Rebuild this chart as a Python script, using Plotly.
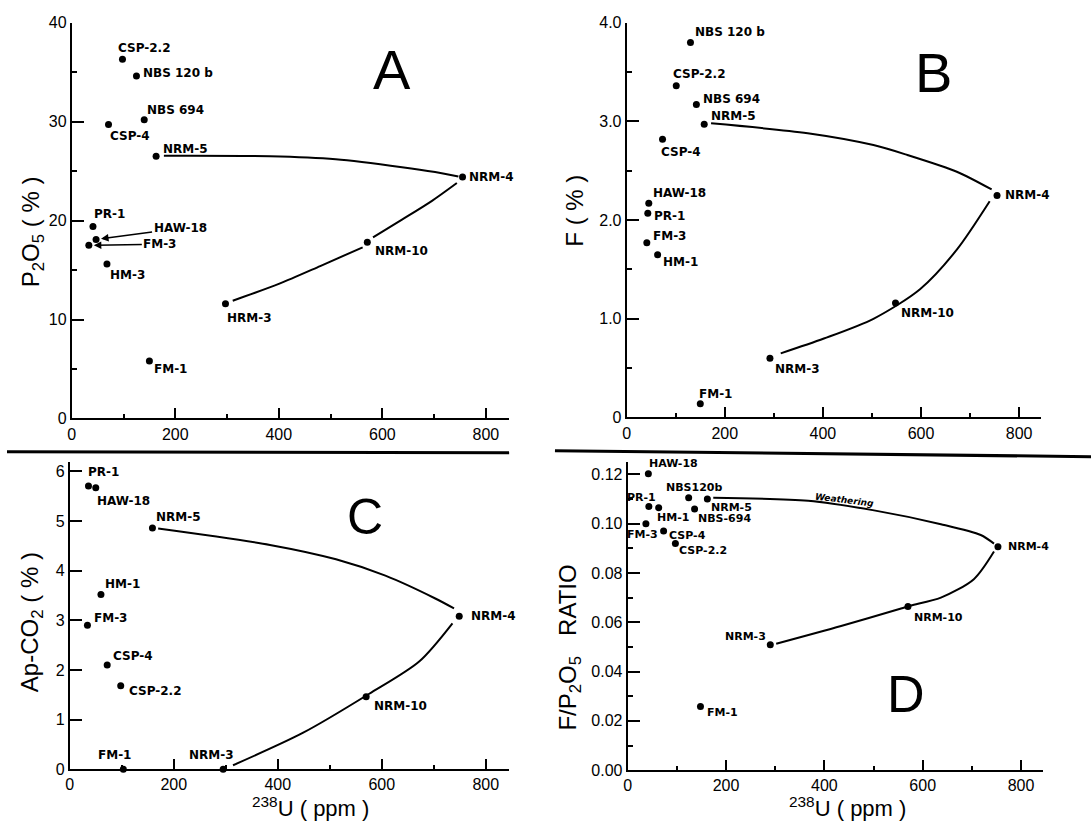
import plotly.graph_objects as go

W, H = 1091, 835

# ---------------- data ----------------
# Panel A : P2O5 (%) vs 238U (ppm)
a_names = ["CSP-2.2", "NBS 120 b", "NBS 694", "CSP-4", "NRM-5", "NRM-4", "PR-1",
           "HAW-18", "FM-3", "HM-3", "NRM-10", "HRM-3", "FM-1"]
a_u = [98, 125, 140, 71, 163, 755, 41, 47, 33, 68, 571, 297, 150]
a_p2o5 = [36.3, 34.6, 30.2, 29.7, 26.5, 24.4, 19.4, 18.1, 17.5, 15.6, 17.8, 11.6, 5.8]
a_curve1_u = [178, 383, 510, 638, 702, 747]
a_curve1_v = [26.55, 26.5, 26.2, 25.4, 24.9, 24.45]
a_curve2_u = [744, 696, 638, 582]
a_curve2_v = [23.8, 22.0, 20.1, 18.3]
a_curve3_u = [562, 480, 400, 311]
a_curve3_v = [17.3, 15.4, 13.6, 11.9]

# Panel B : F (%) vs 238U (ppm)
b_names = ["NBS 120 b", "CSP-2.2", "NBS 694", "NRM-5", "CSP-4", "HAW-18", "PR-1",
           "FM-3", "HM-1", "NRM-4", "NRM-10", "NRM-3", "FM-1"]
b_u = [130, 101, 142, 158, 73, 45, 43, 41, 63, 755, 548, 292, 150]
b_f = [3.80, 3.36, 3.17, 2.97, 2.82, 2.17, 2.07, 1.77, 1.65, 2.25, 1.16, 0.60, 0.14]
b_curve1_u = [172, 369, 503, 572, 673, 744]
b_curve1_v = [2.98, 2.88, 2.76, 2.66, 2.49, 2.31]
b_curve2_u = [740, 673, 598, 503, 402, 314]
b_curve2_v = [2.19, 1.70, 1.30, 1.00, 0.80, 0.65]

# Panel C : Ap-CO2 (%) vs 238U (ppm)
c_names = ["PR-1", "HAW-18", "NRM-5", "HM-1", "FM-3", "CSP-4", "CSP-2.2",
           "NRM-4", "NRM-10", "FM-1", "NRM-3"]
c_u = [36, 50, 159, 60, 34, 72, 98, 749, 570, 103, 295]
c_co2 = [5.71, 5.67, 4.86, 3.52, 2.90, 2.10, 1.68, 3.08, 1.46, 0.0, 0.0]
c_curve1_u = [170, 385, 512, 607, 703, 739]
c_curve1_v = [4.85, 4.52, 4.23, 3.90, 3.44, 3.24]
c_curve2_u = [736, 672, 576, 448, 314]
c_curve2_v = [2.94, 2.17, 1.52, 0.73, 0.08]

# Panel D : F/P2O5 ratio vs 238U (ppm)
d_names = ["HAW-18", "PR-1", "HM-1", "NBS120b", "NRM-5", "NBS-694", "FM-3",
           "CSP-4", "CSP-2.2", "NRM-4", "NRM-10", "NRM-3", "FM-1"]
d_u = [42, 43, 63, 124, 162, 136, 37, 73, 97, 753, 570, 290, 148]
d_ratio = [0.1203, 0.1070, 0.1065, 0.1105, 0.1100, 0.1060, 0.1000, 0.0970,
           0.0920, 0.0906, 0.0664, 0.0509, 0.0258]
d_curve1_u = [174, 367, 501, 637, 718, 745]
d_curve1_v = [0.1105, 0.1093, 0.1054, 0.0998, 0.0954, 0.0919]
d_curve2_u = [745, 704, 637, 576, 556, 434, 302]
d_curve2_v = [0.0887, 0.0775, 0.0700, 0.0668, 0.0656, 0.0585, 0.0513]

x_ticks = [0, 200, 400, 600, 800]
x_minor = [100, 300, 500, 700]
a_ticks = [0, 10, 20, 30, 40]
a_minor = [5, 15, 25, 35]
b_ticks = [0, 1, 2, 3, 4]
b_ticktext = ["0", "1.0", "2.0", "3.0", "4.0"]
b_minor = [0.5, 1.5, 2.5, 3.5]
c_ticks = [0, 1, 2, 3, 4, 5, 6]
d_ticks = [0, 0.02, 0.04, 0.06, 0.08, 0.10, 0.12]
d_ticktext = ["0.00", "0.02", "0.04", "0.06", "0.08", "0.10", "0.12"]
d_minor = [0.01, 0.03, 0.05, 0.07, 0.09, 0.11]

# ------------- label offsets (pixels: anchor, dx, dy) -------------
a_off = {"CSP-2.2": ("left", -6, 11), "NBS 120 b": ("left", 5, 3), "NBS 694": ("left", 1, 10),
         "CSP-4": ("left", -1, -11), "NRM-5": ("left", 5, 7), "NRM-4": ("left", 4, 0),
         "PR-1": ("left", -1, 13), "HM-3": ("left", 1, -11), "NRM-10": ("left", 6, -9),
         "HRM-3": ("left", 0, -14), "FM-1": ("left", 3, -8)}
a_arrow = {"HAW-18": (84, -11), "FM-3": (71, -1)}
b_off = {"NBS 120 b": ("left", 3, 10), "CSP-2.2": ("left", -5, 12), "NBS 694": ("left", 5, 6),
         "NRM-5": ("left", 5, 8), "CSP-4": ("left", -4, -13), "HAW-18": ("left", 2, 10),
         "PR-1": ("left", 4, -3), "FM-3": ("left", 4, 7), "HM-1": ("left", 3, -7),
         "NRM-4": ("left", 6, 0), "NRM-10": ("left", 3, -10), "NRM-3": ("left", 3, -11),
         "FM-1": ("left", -3, 10)}
c_off = {"PR-1": ("left", -2, 14), "HAW-18": ("left", -1, -13), "NRM-5": ("left", 2, 11),
         "HM-1": ("left", 2, 11), "FM-3": ("left", 5, 7), "CSP-4": ("left", 4, 9),
         "CSP-2.2": ("left", 6, -5), "NRM-4": ("left", 10, 0), "NRM-10": ("left", 6, -9),
         "FM-1": ("center", -9, 14), "NRM-3": ("center", -12, 14)}
d_off = {"HAW-18": ("left", -1, 10), "PR-1": ("center", -7, 9), "HM-1": ("left", -4, -10),
         "NBS120b": ("center", 5, 10), "NRM-5": ("left", 2, -8), "NBS-694": ("left", 1, -10),
         "FM-3": ("center", -3, -11), "CSP-4": ("left", 3, -4), "CSP-2.2": ("left", 2, -7),
         "NRM-4": ("left", 8, 0), "NRM-10": ("left", 4, -11), "NRM-3": ("right", -2, 8),
         "FM-1": ("left", 5, -6)}

# ------------- geometry (pixels) -------------
def px_x(p):
    return p / W

def px_y(p):
    return 1 - p / H

panels = {
    "A": dict(xd=[px_x(68), px_x(507)], yd=[px_y(419), px_y(15)]),
    "B": dict(xd=[px_x(625), px_x(1041)], yd=[px_y(418), px_y(15)]),
    "C": dict(xd=[px_x(66), px_x(507)], yd=[px_y(777), px_y(463)]),
    "D": dict(xd=[px_x(626), px_x(1043)], yd=[px_y(778), px_y(463)]),
}

FONT = "DejaVu Sans, Liberation Sans, sans-serif"
LBL = "Liberation Sans, Arial, sans-serif"
fig = go.Figure()

def add_panel(idx, names, xs, ys, curves, offs, lblsize, arrows=None):
    xa = "x" if idx == 1 else f"x{idx}"
    ya = "y" if idx == 1 else f"y{idx}"
    for cu, cv in curves:
        fig.add_trace(go.Scatter(x=cu, y=cv, mode="lines", xaxis=xa, yaxis=ya,
                                 line=dict(color="black", width=2, shape="spline", smoothing=0.8),
                                 showlegend=False, hoverinfo="skip"))
    fig.add_trace(go.Scatter(x=xs, y=ys, mode="markers", xaxis=xa, yaxis=ya,
                             marker=dict(color="black", size=7),
                             text=names, showlegend=False, cliponaxis=False))
    for n, xv, yv in zip(names, xs, ys):
        if arrows and n in arrows:
            axp, ayp = arrows[n]
            fig.add_annotation(x=xv, y=yv, xref=xa, yref=ya, text=f"<b>{n}</b>",
                               showarrow=True, ax=axp, ay=ayp, arrowhead=2, arrowsize=1,
                               arrowwidth=1.5, arrowcolor="black", standoff=5,
                               font=dict(family=FONT, size=lblsize, color="black"))
            continue
        anc, dx, dy = offs[n]
        fig.add_annotation(x=xv, y=yv, xref=xa, yref=ya, text=f"<b>{n}</b>",
                           showarrow=False, xanchor=anc, yanchor="middle",
                           xshift=dx, yshift=dy,
                           font=dict(family=FONT, size=lblsize, color="black"))

add_panel(1, a_names, a_u, a_p2o5,
          [(a_curve1_u, a_curve1_v), (a_curve2_u, a_curve2_v), (a_curve3_u, a_curve3_v)],
          a_off, 12, a_arrow)
add_panel(2, b_names, b_u, b_f,
          [(b_curve1_u, b_curve1_v), (b_curve2_u, b_curve2_v)], b_off, 12)
add_panel(3, c_names, c_u, c_co2,
          [(c_curve1_u, c_curve1_v), (c_curve2_u, c_curve2_v)], c_off, 12)
add_panel(4, d_names, d_u, d_ratio,
          [(d_curve1_u, d_curve1_v), (d_curve2_u, d_curve2_v)], d_off, 11)

tickfont = dict(family=LBL, size=16, color="black")

def xaxis(dom, anchor):
    return dict(domain=dom, anchor=anchor, range=[0, 845], showline=True, linecolor="black",
                linewidth=2, showgrid=False, zeroline=False, ticks="inside", ticklen=10,
                tickwidth=2, tickcolor="black", tickmode="array", tickvals=x_ticks,
                ticktext=[str(v) for v in x_ticks], tickfont=tickfont,
                minor=dict(ticks="inside", ticklen=4, tickwidth=1.5, tickcolor="black",
                           tickmode="array", tickvals=x_minor),
                fixedrange=True)

def yaxis(dom, anchor, rng, tv, tt, mv):
    return dict(domain=dom, anchor=anchor, range=rng, showline=True, linecolor="black",
                linewidth=2, showgrid=False, zeroline=False, ticks="inside", ticklen=12,
                tickwidth=2, tickcolor="black", tickmode="array", tickvals=tv, ticktext=tt,
                tickfont=tickfont,
                minor=dict(ticks="inside", ticklen=5, tickwidth=1.5, tickcolor="black",
                           tickmode="array", tickvals=mv),
                fixedrange=True)

fig.update_layout(
    width=W, height=H, margin=dict(l=0, r=0, t=0, b=0),
    paper_bgcolor="white", plot_bgcolor="white", showlegend=False,
    xaxis=xaxis(panels["A"]["xd"], "y"),
    yaxis=yaxis(panels["A"]["yd"], "x", [0, 40], a_ticks, [str(v) for v in a_ticks], a_minor),
    xaxis2=xaxis(panels["B"]["xd"], "y2"),
    yaxis2=yaxis(panels["B"]["yd"], "x2", [0, 4.0], b_ticks, b_ticktext, b_minor),
    xaxis3=xaxis(panels["C"]["xd"], "y3"),
    yaxis3=yaxis(panels["C"]["yd"], "x3", [0, 6.2], c_ticks, [str(v) for v in c_ticks], []),
    xaxis4=xaxis(panels["D"]["xd"], "y4"),
    yaxis4=yaxis(panels["D"]["yd"], "x4", [0, 0.1252], d_ticks, d_ticktext, d_minor),
)

# axis titles and panel letters (paper coordinates)
def ann(px, py, text, size, angle=0, italic=False):
    fig.add_annotation(x=px_x(px), y=px_y(py), xref="paper", yref="paper", text=text,
                       showarrow=False, textangle=angle, xanchor="center", yanchor="middle",
                       font=dict(family=LBL, size=size, color="black",
                                 style="italic" if italic else "normal"))

ann(28, 228, "P<sub>2</sub>O<sub>5</sub> ( % )", 24, -90)
ann(573, 207, "F ( % )", 24, -90)
ann(27, 627, "Ap-CO<sub>2</sub> ( % )", 24, -90)
ann(568, 653, "F/P<sub>2</sub>O<sub>5</sub>   RATIO", 24, -90)
ann(308, 816, "<sup>238</sup>U ( ppm )", 22)
ann(847, 816, "<sup>238</sup>U ( ppm )", 22)
ann(389, 63, "A", 56)
ann(933, 66, "B", 56)
ann(362, 520, "C", 50)
ann(905, 700, "D", 52)
fig.add_annotation(x=440, y=0.1097, xref="x4", yref="y4", text="<b>Weathering</b>",
                   showarrow=False, textangle=7, xanchor="center", yanchor="middle",
                   font=dict(family=FONT, size=9, color="black", style="italic"))

# separator lines
fig.add_shape(type="line", xref="paper", yref="paper", x0=px_x(3), x1=px_x(507),
              y0=px_y(453), y1=px_y(454), line=dict(color="black", width=3))
fig.add_shape(type="line", xref="paper", yref="paper", x0=px_x(553), x1=px_x(1091),
              y0=px_y(452), y1=px_y(458), line=dict(color="black", width=3))

fig.write_html("out.html")
